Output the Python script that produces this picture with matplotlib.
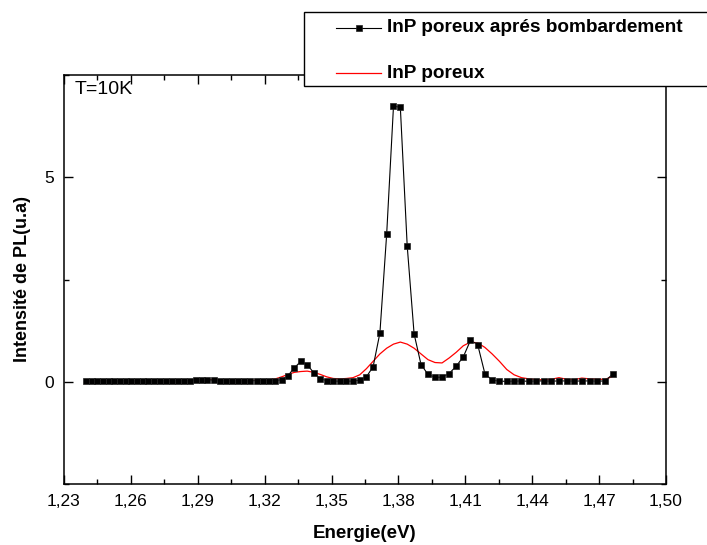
import matplotlib
matplotlib.use("Agg")
import matplotlib.pyplot as plt
from matplotlib.ticker import MultipleLocator, FuncFormatter
from matplotlib.lines import Line2D
from matplotlib.patches import Rectangle

plt.rcParams['font.family'] = ['Liberation Sans', 'DejaVu Sans']

# Energies (eV) of the measured points
energy = [1.24000, 1.24248, 1.24498, 1.24748, 1.25000, 1.25253, 1.25506, 1.25761,
          1.26016, 1.26273, 1.26531, 1.26789, 1.27049, 1.27310, 1.27572, 1.27835,
          1.28099, 1.28364, 1.28631, 1.28898, 1.29167, 1.29436, 1.29707, 1.29979,
          1.30252, 1.30526, 1.30802, 1.31078, 1.31356, 1.31635, 1.31915, 1.32196,
          1.32479, 1.32762, 1.33047, 1.33333, 1.33621, 1.33909, 1.34199, 1.34490,
          1.34783, 1.35076, 1.35371, 1.35667, 1.35965, 1.36264, 1.36564, 1.36865,
          1.37168, 1.37472, 1.37778, 1.38085, 1.38393, 1.38702, 1.39013, 1.39326,
          1.39640, 1.39955, 1.40271, 1.40590, 1.40909, 1.41230, 1.41553, 1.41876,
          1.42202, 1.42529, 1.42857, 1.43187, 1.43519, 1.43852, 1.44186, 1.44522,
          1.44860, 1.45199, 1.45540, 1.45882, 1.46226, 1.46572, 1.46919, 1.47268,
          1.47619]

# InP poreux après bombardement (black squares)
pl_bombarde = [0.02, 0.02, 0.015, 0.02, 0.02, 0.015, 0.02, 0.02,
               0.015, 0.02, 0.02, 0.015, 0.02, 0.02, 0.02, 0.02,
               0.03, 0.02, 0.03, 0.04, 0.05, 0.05, 0.04, 0.03,
               0.02, 0.02, 0.02, 0.02, 0.02, 0.03, 0.03, 0.03,
               0.03, 0.05, 0.15, 0.34, 0.50, 0.42, 0.22, 0.07,
               0.03, 0.015, 0.015, 0.015, 0.015, 0.04, 0.12, 0.37,
               1.19, 3.61, 6.74, 6.71, 3.32, 1.17, 0.42, 0.18,
               0.11, 0.11, 0.20, 0.38, 0.61, 1.01, 0.91, 0.20,
               0.04, 0.015, 0.01, 0.015, 0.02, 0.01, 0.02, 0.02,
               0.015, 0.02, 0.02, 0.015, 0.02, 0.02, 0.015, 0.02,
               0.19]

# InP poreux (red line)
pl_poreux = [0.03, 0.03, 0.03, 0.02, 0.03, 0.03, 0.02, 0.03,
             0.03, 0.02, 0.03, 0.03, 0.02, 0.03, 0.03, 0.03,
             0.03, 0.04, 0.05, 0.05, 0.06, 0.06, 0.05, 0.05,
             0.04, 0.04, 0.03, 0.03, 0.03, 0.04, 0.04, 0.05,
             0.07, 0.12, 0.18, 0.23, 0.25, 0.26, 0.23, 0.18,
             0.12, 0.08, 0.07, 0.08, 0.10, 0.17, 0.32, 0.50,
             0.68, 0.82, 0.92, 0.97, 0.92, 0.82, 0.68, 0.54,
             0.47, 0.46, 0.58, 0.72, 0.88, 0.97, 0.95, 0.84,
             0.68, 0.50, 0.30, 0.17, 0.10, 0.07, 0.05, 0.05,
             0.06, 0.10, 0.06, 0.05, 0.09, 0.07, 0.06, 0.06,
             0.13]

label_bombarde = "InP poreux aprés bombardement"
label_poreux = "InP poreux"

W, H = 707, 545
fig = plt.figure(figsize=(W / 100, H / 100), dpi=100)
ax = fig.add_axes([64 / W, 1 - 484 / H, (666 - 64) / W, (484 - 75) / H])

ax.plot(energy, pl_bombarde, color='black', lw=0.8, marker='s', ms=4.8,
        mfc='black', mec='#222222', mew=0.5, zorder=3)
ax.plot(energy, pl_poreux, color='red', lw=0.9, zorder=2)

ax.set_xlim(1.23, 1.50)
ax.set_ylim(-2.5, 7.5)
ax.xaxis.set_major_locator(MultipleLocator(0.03))
ax.xaxis.set_minor_locator(MultipleLocator(0.015))
ax.yaxis.set_major_locator(MultipleLocator(5))
ax.yaxis.set_minor_locator(MultipleLocator(2.5))
ax.xaxis.set_major_formatter(FuncFormatter(lambda v, p: f"{v:.2f}".replace('.', ',')))
ax.yaxis.set_major_formatter(FuncFormatter(lambda v, p: f"{v:.0f}"))

ax.tick_params(which='both', direction='in', top=True, right=True, width=1.0,
               labelsize=12.5, pad=7.5)
ax.tick_params(which='major', length=6.5)
ax.tick_params(which='minor', length=3.5)
for s in ax.spines.values():
    s.set_linewidth(1.1)

ax.set_xlabel("Energie(eV)", fontsize=13.5, fontweight='bold', va='center')
ax.xaxis.set_label_coords(0.5, -(533 - 484) / (484 - 75))
ax.set_ylabel("Intensité de PL(u.a)", fontsize=13, fontweight='bold', va='center')
ax.yaxis.set_label_coords(-(64 - 23) / (666 - 64), 0.5)

ax.text((75 - 64) / (666 - 64), (484 - 90) / (484 - 75), "T=10K", fontsize=14,
        ha='left', va='center', transform=ax.transAxes)

# Legend box (extends beyond the right edge as in the original)
fig.add_artist(Rectangle((304 / W, 1 - 86 / H), 0.7, (86 - 12) / H,
                         transform=fig.transFigure, facecolor='white',
                         edgecolor='black', lw=1.0, zorder=5))
y1 = 1 - 28 / H
y2 = 1 - 73 / H
fig.add_artist(Line2D([336 / W, 381 / W], [y1, y1], color='black', lw=0.8,
                      transform=fig.transFigure, zorder=6))
fig.add_artist(Line2D([358.5 / W], [y1], color='black', marker='s', ms=4.8,
                      mfc='black', mec='#222222', mew=0.5, ls='none',
                      transform=fig.transFigure, zorder=7))
fig.add_artist(Line2D([336 / W, 381 / W], [y2, y2], color='red', lw=0.9,
                      transform=fig.transFigure, zorder=6))
fig.text(387 / W, y1, label_bombarde, fontsize=13.7, fontweight='bold',
         ha='left', va='center', zorder=7)
fig.text(387 / W, y2, label_poreux, fontsize=13.7, fontweight='bold',
         ha='left', va='center', zorder=7)

fig.savefig("out.png", dpi=100)
